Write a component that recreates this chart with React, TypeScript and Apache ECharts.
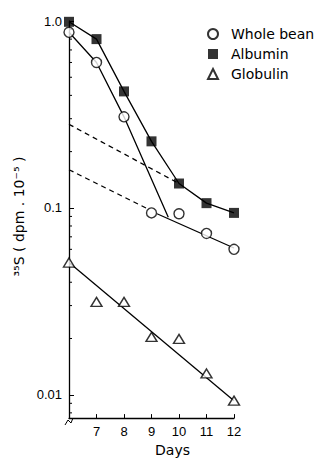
import React, { useEffect, useRef } from "react";
import * as echarts from "echarts";

// ---- data ----
const legendNames = ["Whole bean", "Albumin", "Globulin"];

const wholeBean = [
  [6, 0.87], [7, 0.6], [8, 0.307], [9, 0.094], [10, 0.093], [11, 0.073], [12, 0.06],
];
const albumin = [
  [6, 0.99], [7, 0.8], [8, 0.42], [9, 0.227], [10, 0.135], [11, 0.106], [12, 0.094],
];
const globulin = [
  [6, 0.051], [7, 0.0314], [8, 0.0314], [9, 0.0204], [10, 0.0199], [11, 0.013], [12, 0.0093],
];

// fitted lines drawn in the reference
const wholeBeanFastLine = [[6, 0.87], [7, 0.6], [8, 0.307], [9.61, 0.089]];
const wholeBeanSlowLine = [[9.2, 0.093], [12, 0.061]];
const wholeBeanExtrapolated = [[6, 0.16], [8.85, 0.099]];
const albuminExtrapolated = [[6, 0.28], [10, 0.135]];
const globulinLine = [[6, 0.051], [12, 0.0093]];

const xTicks = [7, 8, 9, 10, 11, 12];
const yTickValues = [0.01, 0.1, 1];
const yTickLabels = ["0.01", "0.1", "1.0"];
const yMinorTicks = [
  0.008, 0.009,
  0.02, 0.03, 0.04, 0.05, 0.06, 0.07, 0.08, 0.09,
  0.2, 0.3, 0.4, 0.5, 0.6, 0.7, 0.8, 0.9,
];

const FONT = "'DejaVu Sans', sans-serif";
const LABEL_FONT = "'Liberation Sans', sans-serif";

export default function App() {
  const ref = useRef<HTMLDivElement>(null);

  useEffect(() => {
    document.body.style.margin = "0";
    const chart = echarts.init(ref.current!, null, { renderer: "svg" });

    const lineStyle = { color: "#000", width: 1.3 };
    const lineSeries = (name: string, data: number[][], dashed = false) => ({
      name,
      type: "line",
      data,
      showSymbol: false,
      symbol: "none",
      silent: true,
      z: 2,
      lineStyle: { ...lineStyle, type: dashed ? [5, 4] : "solid" },
    });

    chart.setOption({
      animation: false,
      backgroundColor: "#fff",
      grid: { left: 69, right: 94, top: 21, bottom: 35 },
      legend: {
        data: legendNames,
        orient: "vertical",
        left: 202,
        top: 22,
        itemWidth: 10,
        itemHeight: 10,
        itemGap: 6,
        textStyle: {
          fontSize: 14,
          fontFamily: FONT,
          color: "#000",
          padding: [0, 0, 0, 8],
        },
        selectedMode: false,
      },
      xAxis: {
        type: "value",
        min: 6,
        max: 12,
        interval: 1,
        name: "Days",
        nameLocation: "middle",
        nameGap: 21,
        nameTextStyle: {
          fontSize: 14,
          fontFamily: FONT,
          color: "#000",
          padding: [0, 0, 0, 42],
        },
        axisLine: { lineStyle: { color: "#000", width: 1.3 } },
        axisTick: { inside: true, length: 4, lineStyle: { color: "#000" } },
        axisLabel: {
          fontSize: 13,
          fontFamily: LABEL_FONT,
          color: "#000",
          margin: 7,
          formatter: (v: number) => (xTicks.includes(v) ? String(v) : ""),
        },
        splitLine: { show: false },
      },
      yAxis: {
        type: "log",
        logBase: 10,
        min: 0.0075,
        max: 1,
        name: "³⁵S ( dpm . 10⁻⁵ )",
        nameLocation: "middle",
        nameRotate: 90,
        nameGap: 38,
        nameTextStyle: {
          fontSize: 14,
          fontFamily: FONT,
          color: "#000",
          padding: [0, 0, 0, 6],
        },
        axisLine: { show: true, lineStyle: { color: "#000", width: 1.3 } },
        axisTick: { inside: true, length: 5, lineStyle: { color: "#000" } },
        axisLabel: {
          fontSize: 13,
          fontFamily: LABEL_FONT,
          color: "#000",
          margin: 7,
          formatter: (v: number) => {
            const i = yTickValues.findIndex((t) => Math.abs(Math.log10(t) - Math.log10(v)) < 1e-6);
            return i >= 0 ? yTickLabels[i] : "";
          },
        },
        splitLine: { show: false },
      },
      graphic: [
        {
          type: "polyline",
          shape: { points: [[65, 425], [68, 420], [71, 423], [73, 418]] },
          style: { stroke: "#000", lineWidth: 1, fill: "none" },
          z: 10,
        },
      ],
      series: [
        {
          name: "minor ticks",
          type: "custom",
          silent: true,
          data: yMinorTicks.map((v) => [6, v]),
          encode: { x: 0, y: 1 },
          renderItem: (_p: any, api: any) => {
            const pt = api.coord([6, api.value(1)]);
            return {
              type: "line",
              shape: { x1: pt[0], y1: pt[1], x2: pt[0] + 3, y2: pt[1] },
              style: { stroke: "#000", lineWidth: 1 },
            };
          },
          z: 1,
        },
        lineSeries("Whole bean fast", wholeBeanFastLine),
        lineSeries("Whole bean slow", wholeBeanSlowLine),
        lineSeries("Whole bean extrapolated", wholeBeanExtrapolated, true),
        lineSeries("Albumin line", albumin),
        lineSeries("Albumin extrapolated", albuminExtrapolated, true),
        lineSeries("Globulin line", globulinLine),
        {
          name: "Whole bean",
          type: "scatter",
          data: wholeBean,
          symbol: "circle",
          symbolSize: 10,
          itemStyle: { color: "#fff", borderColor: "#000", borderWidth: 1.4 },
          z: 5,
        },
        {
          name: "Albumin",
          type: "scatter",
          data: albumin,
          symbol: "rect",
          symbolSize: 10,
          itemStyle: { color: "#000", borderColor: "#000", borderWidth: 0 },
          z: 5,
        },
        {
          name: "Globulin",
          type: "scatter",
          data: globulin,
          symbol: "triangle",
          symbolSize: [11, 9],
          itemStyle: { color: "#fff", borderColor: "#000", borderWidth: 1.4 },
          z: 5,
        },
      ],
    });

    return () => chart.dispose();
  }, []);

  return (
    <div
      ref={ref}
      style={{ position: "absolute", left: 0, top: 0, width: 328, height: 462 }}
    />
  );
}
